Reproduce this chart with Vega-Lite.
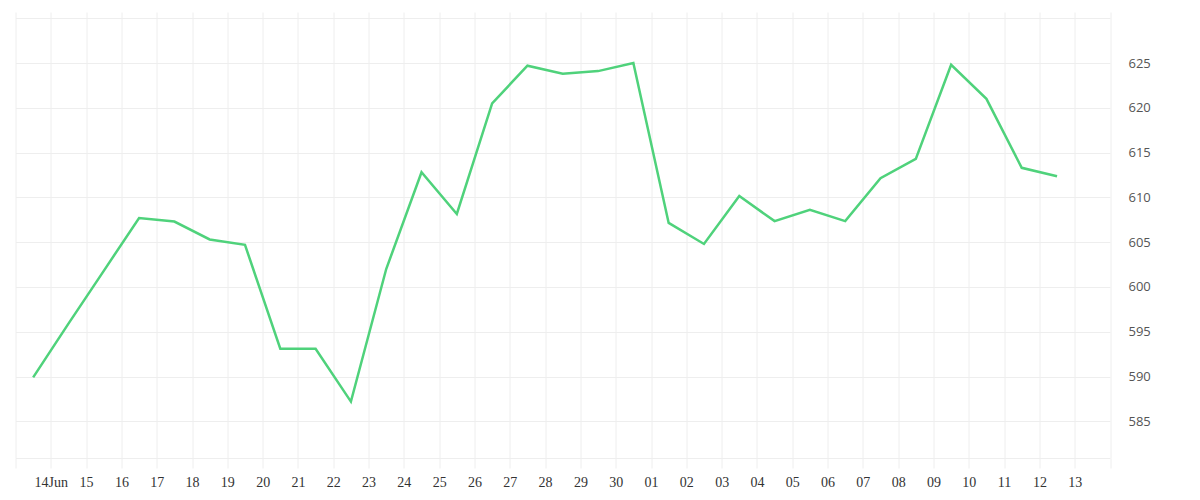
{
  "$schema": "https://vega.github.io/schema/vega-lite/v6.json",
  "autosize": "none",
  "width": 1094.5,
  "height": 446,
  "padding": {"left": 15.5, "top": 12, "right": 90, "bottom": 42},
  "background": "white",
  "config": {"view": {"stroke": null}},
  "data": {
    "values": [
      {"date": "2024-06-13T12:00:00", "value": 589.9},
      {"date": "2024-06-14T12:00:00", "value": 595.9},
      {"date": "2024-06-15T12:00:00", "value": 601.8},
      {"date": "2024-06-16T12:00:00", "value": 607.7},
      {"date": "2024-06-17T12:00:00", "value": 607.3},
      {"date": "2024-06-18T12:00:00", "value": 605.3},
      {"date": "2024-06-19T12:00:00", "value": 604.7},
      {"date": "2024-06-20T12:00:00", "value": 593.1},
      {"date": "2024-06-21T12:00:00", "value": 593.1},
      {"date": "2024-06-22T12:00:00", "value": 587.2},
      {"date": "2024-06-23T12:00:00", "value": 602.0},
      {"date": "2024-06-24T12:00:00", "value": 612.8},
      {"date": "2024-06-25T12:00:00", "value": 608.15},
      {"date": "2024-06-26T12:00:00", "value": 620.5},
      {"date": "2024-06-27T12:00:00", "value": 624.7},
      {"date": "2024-06-28T12:00:00", "value": 623.8},
      {"date": "2024-06-29T12:00:00", "value": 624.1},
      {"date": "2024-06-30T12:00:00", "value": 625.0},
      {"date": "2024-07-01T12:00:00", "value": 607.15},
      {"date": "2024-07-02T12:00:00", "value": 604.8},
      {"date": "2024-07-03T12:00:00", "value": 610.15},
      {"date": "2024-07-04T12:00:00", "value": 607.35},
      {"date": "2024-07-05T12:00:00", "value": 608.6},
      {"date": "2024-07-06T12:00:00", "value": 607.35},
      {"date": "2024-07-07T12:00:00", "value": 612.15},
      {"date": "2024-07-08T12:00:00", "value": 614.3},
      {"date": "2024-07-09T12:00:00", "value": 624.8},
      {"date": "2024-07-10T12:00:00", "value": 621.0},
      {"date": "2024-07-11T12:00:00", "value": 613.3},
      {"date": "2024-07-12T12:00:00", "value": 612.35}
    ]
  },
  "mark": {"type": "line", "color": "#4fd27b", "strokeWidth": 2.5},
  "encoding": {
    "x": {
      "field": "date",
      "type": "temporal",
      "title": null,
      "scale": {
        "domain": [
          {"year": 2024, "month": 6, "date": 13},
          {"year": 2024, "month": 7, "date": 14}
        ]
      },
      "axis": {
        "tickCount": {"interval": "day", "step": 1},
        "format": "%d",
        "labelExpr": "datum.value < datetime(2024, 5, 14) || datum.value > datetime(2024, 6, 13) ? '' : (date(datum.value) == 14 && month(datum.value) == 5 ? '14Jun' : datum.label)",
        "labelOverlap": false,
        "labelFlush": false,
        "labelFont": "Liberation Serif",
        "labelFontSize": 14,
        "labelColor": "#333333",
        "labelPadding": 7,
        "grid": true,
        "gridColor": "#eeeeee",
        "domainColor": "#eeeeee",
        "tickColor": "#eeeeee",
        "tickSize": 10
      }
    },
    "y": {
      "field": "value",
      "type": "quantitative",
      "title": null,
      "scale": {"domain": [580.9, 630.7], "nice": false, "zero": false},
      "axis": {
        "orient": "right",
        "values": [585, 590, 595, 600, 605, 610, 615, 620, 625, 630],
        "labelExpr": "datum.value >= 630 ? '' : datum.label",
        "ticks": false,
        "domain": false,
        "grid": true,
        "gridColor": "#eeeeee",
        "labelFont": "Open Sans",
        "labelFontSize": 13,
        "labelColor": "#555555",
        "labelPadding": 18
      }
    }
  }
}
